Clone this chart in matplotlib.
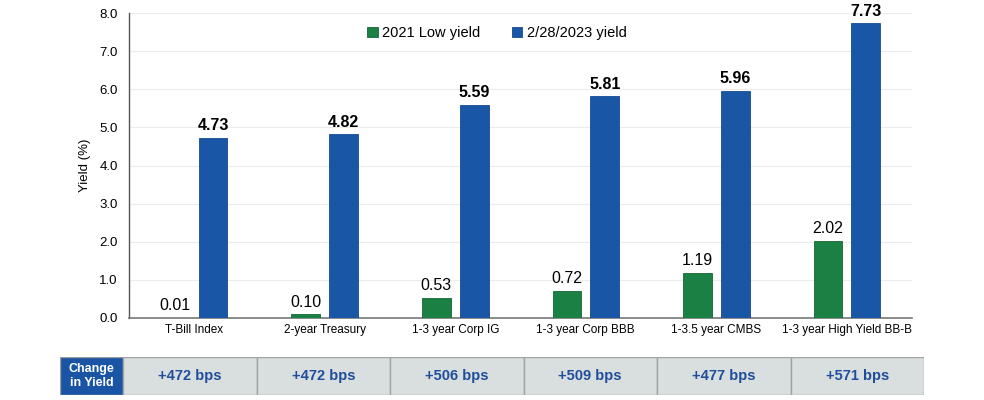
import matplotlib
matplotlib.use("Agg")
import matplotlib.pyplot as plt
import numpy as np
from matplotlib.patches import Rectangle

plt.rcParams["font.family"] = ["Liberation Sans", "DejaVu Sans"]

categories = ["T-Bill Index", "2-year Treasury", "1-3 year Corp IG",
              "1-3 year Corp BBB", "1-3.5 year CMBS", "1-3 year High Yield BB-B"]
low_2021 = [0.01, 0.10, 0.53, 0.72, 1.19, 2.02]
yield_2023 = [4.73, 4.82, 5.59, 5.81, 5.96, 7.73]
change_bps = [472, 472, 506, 509, 477, 571]

GREEN = "#1A8043"
BLUE = "#1A56A6"
TEXT_BLUE = "#1F4E9C"

fig = plt.figure(figsize=(9.84, 4.0), dpi=100)
ax = fig.add_axes([0.131, 0.205, 0.796, 0.7625])

x = np.arange(len(categories))
w = 0.22
off = 0.145
b1 = ax.bar(x - off, low_2021, w, color=GREEN, edgecolor="#146633", linewidth=0.6,
            label="2021 Low yield", zorder=3)
b2 = ax.bar(x + off, yield_2023, w, color=BLUE, edgecolor="#144a92", linewidth=0.6,
            label="2/28/2023 yield", zorder=3)

for xi, v in zip(x, low_2021):
    ax.text(xi - off, v + 0.12, f"{v:.2f}", ha="center", va="bottom", fontsize=11.5)
for xi, v in zip(x, yield_2023):
    ax.text(xi + off, v + 0.12, f"{v:.2f}", ha="center", va="bottom", fontsize=11.5,
            fontweight="bold")

ax.set_xlim(-0.5, len(categories) - 0.5)
ax.set_ylim(0, 8)
ax.set_yticks(np.arange(0, 8.1, 1.0))
ax.set_yticklabels([f"{t:.1f}" for t in np.arange(0, 8.1, 1.0)], fontsize=9.5)
ax.set_xticks(x)
ax.set_xticklabels(categories, fontsize=8.5)
ax.tick_params(axis="both", length=0, pad=4)
ax.tick_params(axis="y", pad=8)
ax.set_ylabel("Yield (%)", fontsize=9.5, labelpad=6)
ax.yaxis.grid(True, color="#ececec", linewidth=0.8, zorder=0)
ax.set_axisbelow(True)
for s in ("top", "right"):
    ax.spines[s].set_visible(False)
ax.spines["left"].set_color("#555555")
ax.spines["bottom"].set_color("#777777")
ax.spines["left"].set_linewidth(1.0)
ax.spines["bottom"].set_linewidth(1.2)

ax.legend(handles=[b1, b2], loc="upper center", bbox_to_anchor=(0.47, 1.0),
          ncol=2, frameon=False, fontsize=10.5, handlelength=0.7, handleheight=0.7,
          handletextpad=0.3, columnspacing=2.2)

# change-in-yield table
tax = fig.add_axes([60 / 984, 5 / 400, 864 / 984, 38 / 400])
tax.set_xlim(0, 864)
tax.set_ylim(0, 1)
tax.axis("off")
hdr_w = 63
cell_w = (864 - hdr_w) / len(change_bps)
tax.add_patch(Rectangle((0, 0), hdr_w, 1, facecolor="#1A55A5", edgecolor="#9a9a9a",
                        linewidth=1.0))
tax.text(hdr_w / 2, 0.5, "Change\nin Yield", color="white", fontsize=9,
         fontweight="bold", ha="center", va="center", linespacing=1.15)
for i, c in enumerate(change_bps):
    x0 = hdr_w + i * cell_w
    tax.add_patch(Rectangle((x0, 0), cell_w, 1, facecolor="#D9DEDF",
                            edgecolor="#a3a3a3", linewidth=1.0))
    tax.text(x0 + cell_w / 2, 0.5, f"+{c} bps", color=TEXT_BLUE, fontsize=10.5,
             fontweight="bold", ha="center", va="center")

fig.savefig("out.png", dpi=100)
